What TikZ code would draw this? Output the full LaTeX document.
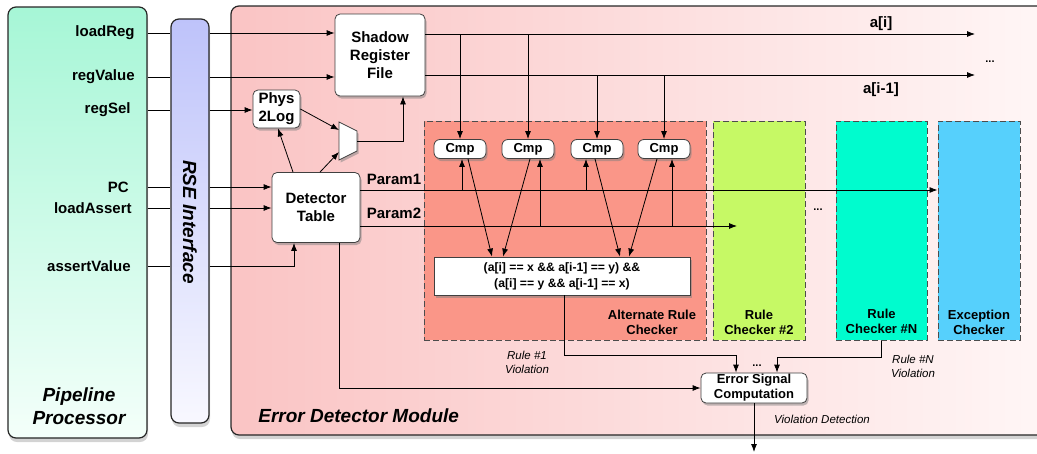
\documentclass[tikz,border=0pt]{standalone}
\usepackage{fontspec}
\setmainfont{Liberation Sans}
\usetikzlibrary{arrows.meta,calc,positioning,shadows}

\definecolor{ppTop}{RGB}{166,246,214}
\definecolor{ppBot}{RGB}{244,255,250}
\definecolor{rseTop}{RGB}{190,195,250}
\definecolor{rseBot}{RGB}{248,248,255}
\definecolor{edmLeft}{RGB}{250,196,196}
\definecolor{edmRight}{RGB}{255,246,246}
\definecolor{altFill}{RGB}{250,150,136}
\definecolor{rcTwoFill}{RGB}{198,249,101}
\definecolor{rcNFill}{RGB}{0,252,206}
\definecolor{excFill}{RGB}{86,208,252}

\tikzset{
  panel/.style={draw=black!85, line width=1.2pt, rounded corners=8pt,
    drop shadow={shadow xshift=1pt, shadow yshift=-4pt, opacity=0.35}},
  block/.style={draw=black!75, fill=white, rounded corners=5pt, align=center, inner sep=1pt,
    font=\bfseries\fontsize{15}{18}\selectfont,
    drop shadow={shadow xshift=1.5pt, shadow yshift=-2.5pt, opacity=0.5}},
  cmpbox/.style={block, rounded corners=6pt, minimum width=52pt, minimum height=19pt,
    font=\bfseries\fontsize{13}{14}\selectfont},
  checker/.style={draw=black!70, line width=1pt, dash pattern=on 6pt off 3pt},
  chklabel/.style={align=center, inner sep=1pt, font=\bfseries\fontsize{13}{15}\selectfont},
  sig/.style={inner sep=0pt, font=\bfseries\fontsize{15}{17}\selectfont},
  viol/.style={align=center, inner sep=0pt, font=\itshape\fontsize{11.5}{14}\selectfont},
  title/.style={align=center, inner sep=0pt, font=\bfseries\itshape\fontsize{19}{23}\selectfont},
  dots/.style={inner sep=0pt, font=\bfseries\fontsize{11}{12}\selectfont}
}

\begin{document}
\begin{tikzpicture}[x=1pt, y=-1pt, >={Latex[length=8pt,width=6pt]}, line width=0.8pt]
  \clip (0,0) rectangle (1037,453);

  % the three panels
  \node[panel, top color=ppTop, bottom color=ppBot, minimum width=139pt, minimum height=431pt] (pp) at (77.5,222.5) {};
  \node[panel, top color=rseTop, bottom color=rseBot, minimum width=38pt, minimum height=404pt] (rse) at (190,221) {};
  \node[panel, left color=edmLeft, right color=edmRight, minimum width=814pt, minimum height=429pt] (edm) at (638,220.5) {};

  \node[title] (ppL) at (79,406) {Pipeline\\Processor};
  \node[title, rotate=-90] (rseL) at (190,222) {RSE Interface};
  \node[title, anchor=west] (edmL) at (258,416) {Error Detector Module};

  % rule checkers
  \node[checker, fill=altFill, minimum width=282pt, minimum height=219pt] (arc) at (565,230.5) {};
  \node[checker, fill=rcTwoFill, minimum width=92pt, minimum height=219pt] (rc2) at (759,230.5) {};
  \node[checker, fill=rcNFill, minimum width=91pt, minimum height=219pt] (rcn) at (881.5,230.5) {};
  \node[checker, fill=excFill, minimum width=82pt, minimum height=219pt] (exc) at (979,230.5) {};

  \node[chklabel, above left=4pt and 9pt of arc.south east] (arcL) {Alternate Rule\\Checker};
  \node[chklabel, above=4pt of rc2.south] (rc2L) {Rule\\Checker \#2};
  \node[chklabel, above=5pt of rcn.south] (rcnL) {Rule\\Checker \#N};
  \node[chklabel, above=4pt of exc.south] (excL) {Exception\\Checker};
  \node[dots] (d1) at (818,210) {...};

  % inputs from the pipeline
  \node[sig, anchor=east] (lReg) at (135,33) {loadReg};
  \node[sig, anchor=east] (rVal) at (135,77) {regValue};
  \node[sig, anchor=east] (rSel) at (131,110) {regSel};
  \node[sig, anchor=east] (pcIn) at (129,187) {PC};
  \node[sig, anchor=east] (lAsr) at (132,208) {loadAssert};
  \node[sig, anchor=east] (aVal) at (131,266) {assertValue};

  % blocks
  \node[block, minimum width=90pt, minimum height=82pt] (srf) at (380,55) {Shadow\\Register\\File};
  \node[block, minimum width=47pt, minimum height=38pt] (p2l) at (276.5,109) {Phys\\2Log};
  \node[block, minimum width=88pt, minimum height=70pt] (det) at (316,207.5) {Detector\\Table};
  \node[cmpbox] (cmp1) at (460,149) {Cmp};
  \node[cmpbox] (cmp2) at (528,149) {Cmp};
  \node[cmpbox] (cmp3) at (597,149) {Cmp};
  \node[cmpbox] (cmp4) at (664,149) {Cmp};
  \node[block, rounded corners=0pt, minimum width=256pt, minimum height=38pt,
        font=\bfseries\fontsize{12.2}{16}\selectfont] (rule) at (562,276)
        {(a[i] == x \&\& a[i-1] == y) \&\&\\(a[i] == y \&\& a[i-1] == x)};
  \node[block, minimum width=106pt, minimum height=30pt,
        font=\bfseries\fontsize{13}{15}\selectfont] (esc) at (754,388) {Error Signal\\Computation};

  % mux
  \draw[draw=black!75, fill=white, drop shadow={shadow xshift=1.5pt, shadow yshift=-2.5pt, opacity=0.5}]
    (339,122) -- (357,131) -- (357,151) -- (339,160) -- cycle;
  \coordinate (muxA) at (339,130);
  \coordinate (muxB) at (339,152);
  \coordinate (muxO) at (357,141);

  % through the interface
  \foreach \s in {lReg,rVal,rSel,pcIn,lAsr,aVal}
    \draw (pp.east |- \s) -- (rse.west |- \s);
  \draw[->] (rse.east |- lReg) -- (srf.west |- lReg);
  \draw[->] (rse.east |- rVal) -- (srf.west |- rVal);
  \draw[->] (rse.east |- rSel) -- (p2l.west |- rSel);
  \draw[->] (rse.east |- pcIn) -- (det.west |- pcIn);
  \draw[->] (rse.east |- lAsr) -- (det.west |- lAsr);
  \coordinate (avIn) at ($(det.south)+(-22,0)$);
  \draw[->] (rse.east |- aVal) -| (avIn);

  % detector table, phys2log, mux
  \draw[->] ($(det.north)+(-23,0)$) -- ($(p2l.south)+(1.5,0)$);
  \draw[->] ($(det.north)+(4,0)$) -- (muxB);
  \draw[->] (p2l.east) -- (muxA);
  \draw[->] (muxO) -| ($(srf.south)+(23,0)$);

  % shadow register outputs
  \coordinate (aiS) at (425,34);
  \coordinate (aiE) at (975,34);
  \coordinate (ajS) at (425,75);
  \coordinate (ajE) at (975,75);
  \draw[->] (aiS) -- (aiE);
  \draw[->] (ajS) -- (ajE);
  \node[sig] (aiL) at (881,24) {a[i]};
  \node[sig] (ajL) at (881,90) {a[i-1]};
  \node[dots] (d0) at (990,62) {...};
  \draw[->] (cmp1 |- aiS) -- (cmp1.north);
  \draw[->] (cmp2 |- aiS) -- (cmp2.north);
  \draw[->] (cmp3 |- ajS) -- (cmp3.north);
  \draw[->] (cmp4 |- ajS) -- (cmp4.north);

  % params
  \coordinate (p1S) at (360,190);
  \coordinate (p2S) at (360,226);
  \coordinate (p2E) at (737,226);
  \node[sig] (p1L) at (394,179) {Param1};
  \node[sig] (p2L) at (394,213) {Param2};
  \draw[->] (p1S) -- (exc.west |- p1S);
  \draw[->] (p2S) -- (p2E);
  \coordinate (c1in) at ($(cmp1.south)+(2,0)$);
  \coordinate (c2in) at ($(cmp2.south)+(12,0)$);
  \coordinate (c3in) at ($(cmp3.south)+(-11,0)$);
  \coordinate (c4in) at ($(cmp4.south)+(8,0)$);
  \draw[->] (c1in |- p1S) -- (c1in);
  \draw[->] (c2in |- p2S) -- (c2in);
  \draw[->] (c3in |- p1S) -- (c3in);
  \draw[->] (c4in |- p2S) -- (c4in);

  % compare results into the rule
  \draw[->] ($(cmp1.south)+(8,0)$) -- ($(rule.north)+(-70,0)$);
  \draw[->] ($(cmp2.south)+(2,0)$) -- ($(rule.north)+(-59,0)$);
  \draw[->] ($(cmp3.south)+(-2,0)$) -- ($(rule.north)+(58,0)$);
  \draw[->] ($(cmp4.south)+(-7,0)$) -- ($(rule.north)+(67,0)$);

  % violations
  \coordinate (r1K) at (736,355);
  \coordinate (rnK) at (777,357);
  \draw[->] ($(rule.south)+(2,0)$) |- (r1K) -- (r1K |- esc.north);
  \draw[->] (rcn.south) |- (rnK) -- (rnK |- esc.north);
  \draw[->] ($(det.south)+(23,0)$) |- (esc.west);
  \coordinate (out) at (754,452);
  \draw[->] (esc.south) -- (out);
  \node[dots] (d2) at (757,366) {...};

  \node[viol] (v1) at (527,362) {Rule \#1\\Violation};
  \node[viol] (vn) at (913,366) {Rule \#N\\Violation};
  \node[viol] (vd) at (822,419) {Violation Detection};
\end{tikzpicture}
\end{document}
